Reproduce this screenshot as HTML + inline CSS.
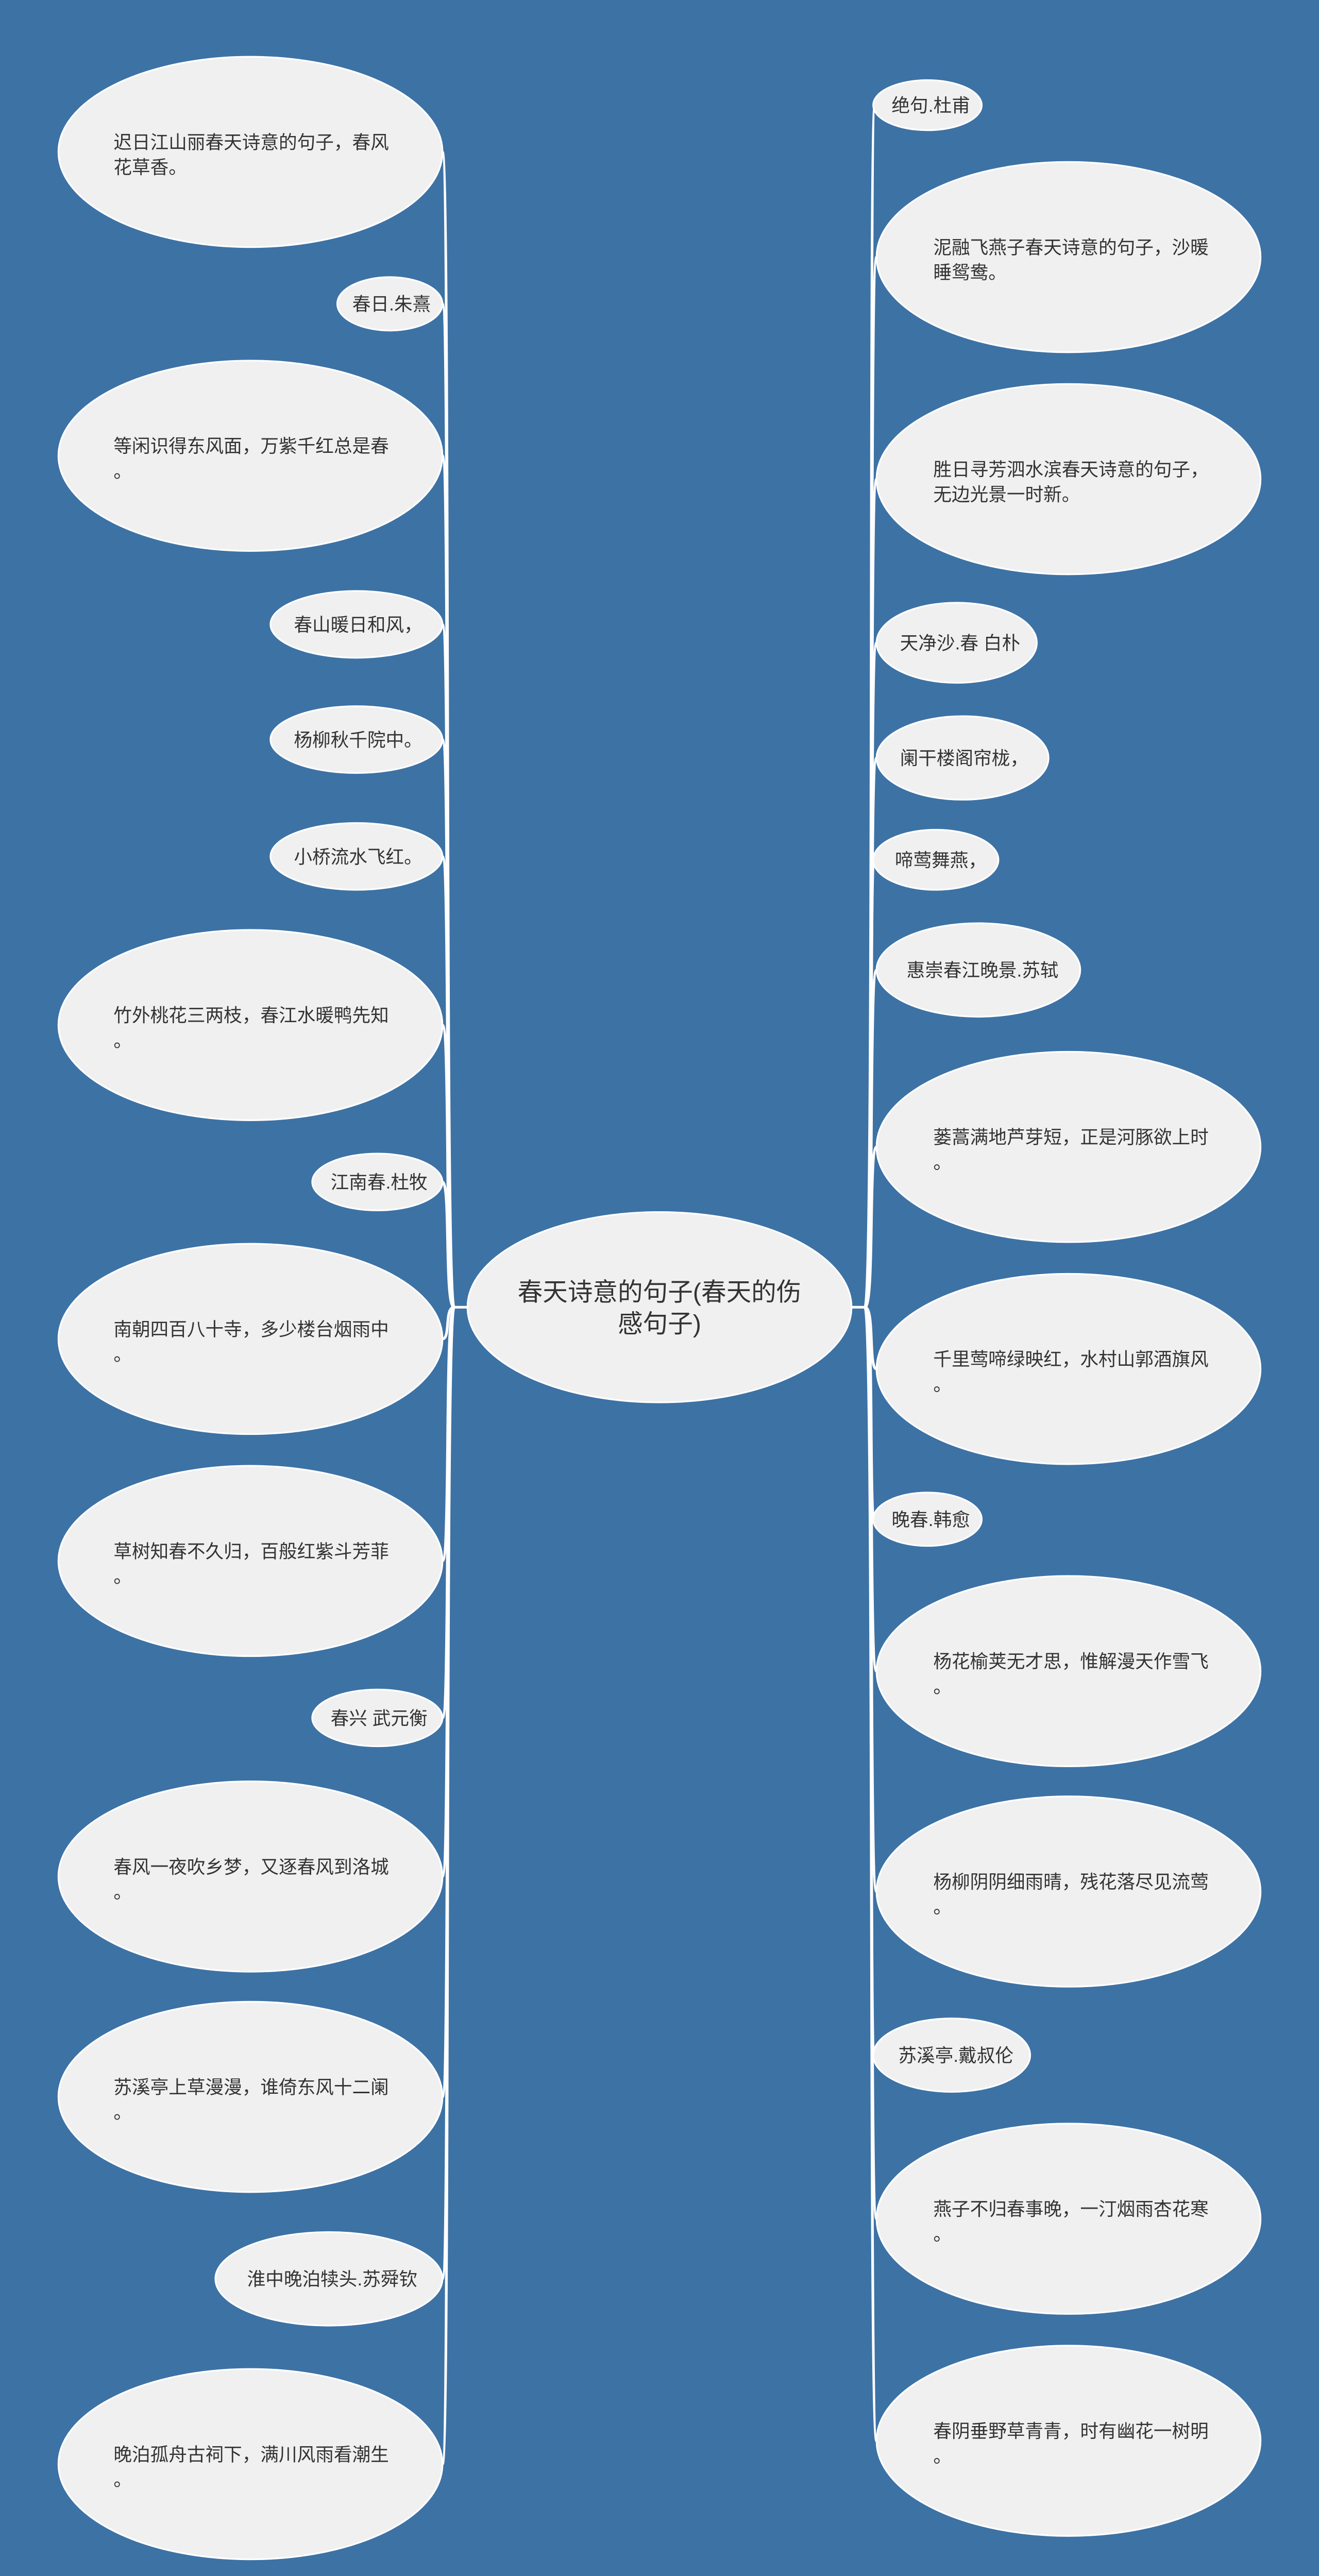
<!DOCTYPE html>
<html><head><meta charset="utf-8"><style>
html,body{margin:0;padding:0;background:#3d72a5;width:2560px;height:5083px;overflow:hidden;}
svg{display:block;position:absolute;left:0;top:0;}
text{font-family:"Liberation Sans","Noto Sans CJK SC",sans-serif;fill:#333;}
</style></head><body>
<svg width="2560" height="5083" viewBox="0 0 790 1568.6" preserveAspectRatio="none" xmlns="http://www.w3.org/2000/svg">
<rect x="0" y="0" width="790" height="1569" fill="#3d72a5"/>
<g fill="none" stroke="#ffffff" stroke-width="1.6">
<path d="M281 783 L272 783"/>
<path d="M509 783 L518 783"/>
<path d="M272 783 C266 783 270 91 265 91"/>
<path d="M272 783 C266 783 270 182 265 182"/>
<path d="M272 783 C266 783 270 273 265 273"/>
<path d="M272 783 C266 783 270 374 265 374"/>
<path d="M272 783 C266 783 270 443 265 443"/>
<path d="M272 783 C266 783 270 513 265 513"/>
<path d="M272 783 C266 783 270 614 265 614"/>
<path d="M272 783 C266 783 270 708 265 708"/>
<path d="M272 783 C266 783 270 802 265 802"/>
<path d="M272 783 C266 783 270 935 265 935"/>
<path d="M272 783 C266 783 270 1029 265 1029"/>
<path d="M272 783 C266 783 270 1124 265 1124"/>
<path d="M272 783 C266 783 270 1256 265 1256"/>
<path d="M272 783 C266 783 270 1365 265 1365"/>
<path d="M272 783 C266 783 270 1476 265 1476"/>
<path d="M518 783 C524 783 520 63 524 63"/>
<path d="M518 783 C524 783 520 154 525 154"/>
<path d="M518 783 C524 783 520 287 525 287"/>
<path d="M518 783 C524 783 520 385 525 385"/>
<path d="M518 783 C524 783 520 454 525 454"/>
<path d="M518 783 C524 783 520 515 524 515"/>
<path d="M518 783 C524 783 520 581 525 581"/>
<path d="M518 783 C524 783 520 687 525 687"/>
<path d="M518 783 C524 783 520 820 525 820"/>
<path d="M518 783 C524 783 520 910 524 910"/>
<path d="M518 783 C524 783 520 1001 525 1001"/>
<path d="M518 783 C524 783 520 1133 525 1133"/>
<path d="M518 783 C524 783 520 1231 524 1231"/>
<path d="M518 783 C524 783 520 1329 525 1329"/>
<path d="M518 783 C524 783 520 1462 525 1462"/>
</g>
<g fill="#f0f0f0" stroke="#ffffff" stroke-width="1">
<ellipse cx="395" cy="783" rx="115" ry="57"/>
<ellipse cx="150" cy="91" rx="115" ry="57"/>
<ellipse cx="233.5" cy="182" rx="31.5" ry="16"/>
<ellipse cx="150" cy="273" rx="115" ry="57"/>
<ellipse cx="213.5" cy="374" rx="51.5" ry="20"/>
<ellipse cx="213.5" cy="443" rx="51.5" ry="20"/>
<ellipse cx="213.5" cy="513" rx="51.5" ry="20"/>
<ellipse cx="150" cy="614" rx="115" ry="57"/>
<ellipse cx="226" cy="708" rx="39" ry="17"/>
<ellipse cx="150" cy="802" rx="115" ry="57"/>
<ellipse cx="150" cy="935" rx="115" ry="57"/>
<ellipse cx="226" cy="1029" rx="39" ry="17"/>
<ellipse cx="150" cy="1124" rx="115" ry="57"/>
<ellipse cx="150" cy="1256" rx="115" ry="57"/>
<ellipse cx="197" cy="1365" rx="68" ry="28"/>
<ellipse cx="150" cy="1476" rx="115" ry="57"/>
<ellipse cx="555.5" cy="63" rx="32.5" ry="15"/>
<ellipse cx="640" cy="154" rx="115" ry="57"/>
<ellipse cx="640" cy="287" rx="115" ry="57"/>
<ellipse cx="573" cy="385" rx="48" ry="24"/>
<ellipse cx="576.5" cy="454" rx="51.5" ry="25"/>
<ellipse cx="560.5" cy="515" rx="37.5" ry="18"/>
<ellipse cx="586" cy="581" rx="61" ry="28"/>
<ellipse cx="640" cy="687" rx="115" ry="57"/>
<ellipse cx="640" cy="820" rx="115" ry="57"/>
<ellipse cx="555.5" cy="910" rx="32.5" ry="16"/>
<ellipse cx="640" cy="1001" rx="115" ry="57"/>
<ellipse cx="640" cy="1133" rx="115" ry="57"/>
<ellipse cx="570" cy="1231" rx="47" ry="22"/>
<ellipse cx="640" cy="1329" rx="115" ry="57"/>
<ellipse cx="640" cy="1462" rx="115" ry="57"/>
</g>
<g font-size="15" text-anchor="middle">
<text x="395" y="779">春天诗意的句子(春天的伤</text>
<text x="395" y="798">感句子)</text>
</g>
<g font-size="11">
<text x="68" y="89">迟日江山丽春天诗意的句子，春风</text><text x="68" y="104">花草香。</text>
<text x="211" y="186">春日.朱熹</text>
<text x="68" y="271">等闲识得东风面，万紫千红总是春</text><text x="68" y="286">。</text>
<text x="176" y="378">春山暖日和风，</text>
<text x="176" y="447">杨柳秋千院中。</text>
<text x="176" y="517">小桥流水飞红。</text>
<text x="68" y="612">竹外桃花三两枝，春江水暖鸭先知</text><text x="68" y="627">。</text>
<text x="198" y="712">江南春.杜牧</text>
<text x="68" y="800">南朝四百八十寺，多少楼台烟雨中</text><text x="68" y="815">。</text>
<text x="68" y="933">草树知春不久归，百般红紫斗芳菲</text><text x="68" y="948">。</text>
<text x="198" y="1033">春兴 武元衡</text>
<text x="68" y="1122">春风一夜吹乡梦，又逐春风到洛城</text><text x="68" y="1137">。</text>
<text x="68" y="1254">苏溪亭上草漫漫，谁倚东风十二阑</text><text x="68" y="1269">。</text>
<text x="148" y="1369">淮中晚泊犊头.苏舜钦</text>
<text x="68" y="1474">晚泊孤舟古祠下，满川风雨看潮生</text><text x="68" y="1489">。</text>
<text x="534" y="67">绝句.杜甫</text>
<text x="559" y="152">泥融飞燕子春天诗意的句子，沙暖</text><text x="559" y="167">睡鸳鸯。</text>
<text x="559" y="285">胜日寻芳泗水滨春天诗意的句子，</text><text x="559" y="300">无边光景一时新。</text>
<text x="539" y="389">天净沙.春 白朴</text>
<text x="539" y="458">阑干楼阁帘栊，</text>
<text x="536" y="519">啼莺舞燕，</text>
<text x="543" y="585">惠崇春江晚景.苏轼</text>
<text x="559" y="685">蒌蒿满地芦芽短，正是河豚欲上时</text><text x="559" y="700">。</text>
<text x="559" y="818">千里莺啼绿映红，水村山郭酒旗风</text><text x="559" y="833">。</text>
<text x="534" y="914">晚春.韩愈</text>
<text x="559" y="999">杨花榆荚无才思，惟解漫天作雪飞</text><text x="559" y="1014">。</text>
<text x="559" y="1131">杨柳阴阴细雨晴，残花落尽见流莺</text><text x="559" y="1146">。</text>
<text x="538" y="1235">苏溪亭.戴叔伦</text>
<text x="559" y="1327">燕子不归春事晚，一汀烟雨杏花寒</text><text x="559" y="1342">。</text>
<text x="559" y="1460">春阴垂野草青青，时有幽花一树明</text><text x="559" y="1475">。</text>
</g>
</svg>
</body></html>
